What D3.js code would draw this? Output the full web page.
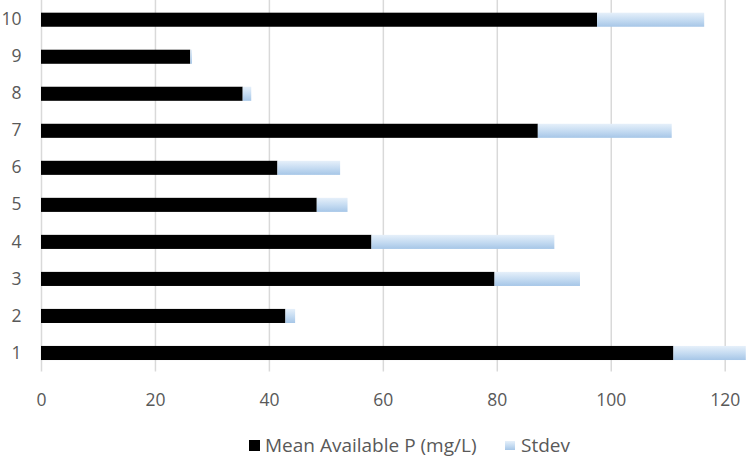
<!DOCTYPE html>
<html>
<head>
<meta charset="utf-8">
<script src="https://cdn.jsdelivr.net/npm/d3@7"></script>
<style>
  body { margin: 0; background: white; }
  text { font-family: "Open Sans", sans-serif; }
</style>
</head>
<body>
<div id="canvas"></div>
<script>
const width = 754;
const height = 458;

// data
const sites = ["1", "2", "3", "4", "5", "6", "7", "8", "9", "10"];
const meanP = [111.0, 42.9, 79.6, 58.0, 48.4, 41.5, 87.2, 35.4, 26.2, 97.6];
const stdev = [12.7, 1.7, 15.0, 32.1, 5.4, 11.0, 23.5, 1.5, 0.3, 18.8];
const xTicks = [0, 20, 40, 60, 80, 100, 120];
const seriesNames = ["Mean Available P (mg/L)", "Stdev"];

const rows = sites.map((s, i) => ({ site: s, mean: meanP[i], sd: stdev[i] }));
const stacked = d3.stack().keys(["mean", "sd"])(rows);

const svg = d3.select("#canvas")
    .append("svg")
    .attr("width", width)
    .attr("height", height);

svg.append("rect")
    .attr("width", width)
    .attr("height", height)
    .attr("fill", "white");

// gradient for the stdev bars
let grad = svg.append("defs").append("linearGradient")
    .attr("id", "sdGrad")
    .attr("x1", 0).attr("y1", 0).attr("x2", 0).attr("y2", 1);
grad.append("stop").attr("offset", "0%").attr("stop-color", "#e6f0fa");
grad.append("stop").attr("offset", "55%").attr("stop-color", "#c3daf1");
grad.append("stop").attr("offset", "100%").attr("stop-color", "#a6c6e7");

const plotTop = 1.2;
const plotBottom = 371.5;

const x = d3.scaleLinear()
    .domain([0, 124])
    .range([41, 41 + 124 * 5.6975]);

const y = d3.scaleBand()
    .domain(sites.slice().reverse())
    .range([plotTop, plotBottom])
    .paddingInner(0.62)
    .paddingOuter(0.31);

// x axis with gridlines
let xAxis = svg.append("g")
    .attr("transform", `translate(0,${plotBottom})`)
    .call(d3.axisBottom(x)
        .tickValues(xTicks)
        .tickSize(-(plotBottom))
        .tickPadding(22));
xAxis.select(".domain").remove();
xAxis.selectAll(".tick line")
    .attr("stroke", "#d9d9d9")
    .attr("stroke-width", 1.5);
xAxis.selectAll(".tick text")
    .attr("fill", "#595959")
    .style("font-size", "17.5px");

// y axis labels
let yAxis = svg.append("g")
    .attr("transform", "translate(41,0)")
    .call(d3.axisLeft(y).tickSize(0).tickPadding(19.5));
yAxis.select(".domain").remove();
yAxis.selectAll(".tick text")
    .attr("fill", "#595959")
    .style("font-size", "17.5px");

// bars
const fills = ["#000000", "url(#sdGrad)"];
svg.selectAll("g.series")
    .data(stacked)
    .join("g")
    .attr("class", "series")
    .attr("fill", (d, i) => fills[i])
    .selectAll("rect")
    .data(d => d)
    .join("rect")
    .attr("x", d => x(d[0]))
    .attr("y", d => y(d.data.site))
    .attr("width", d => x(d[1]) - x(d[0]))
    .attr("height", y.bandwidth());

// legend
let legend = svg.append("g");
legend.append("rect")
    .attr("x", 249).attr("y", 440)
    .attr("width", 11).attr("height", 11)
    .attr("fill", "#000");
legend.append("text")
    .attr("x", 265).attr("y", 452)
    .attr("fill", "#595959")
    .style("font-size", "19px")
    .text(seriesNames[0]);
legend.append("rect")
    .attr("x", 505).attr("y", 441)
    .attr("width", 10).attr("height", 9)
    .attr("fill", "url(#sdGrad)");
legend.append("text")
    .attr("x", 521).attr("y", 452)
    .attr("fill", "#595959")
    .style("font-size", "19px")
    .text(seriesNames[1]);
</script>
</body>
</html>
